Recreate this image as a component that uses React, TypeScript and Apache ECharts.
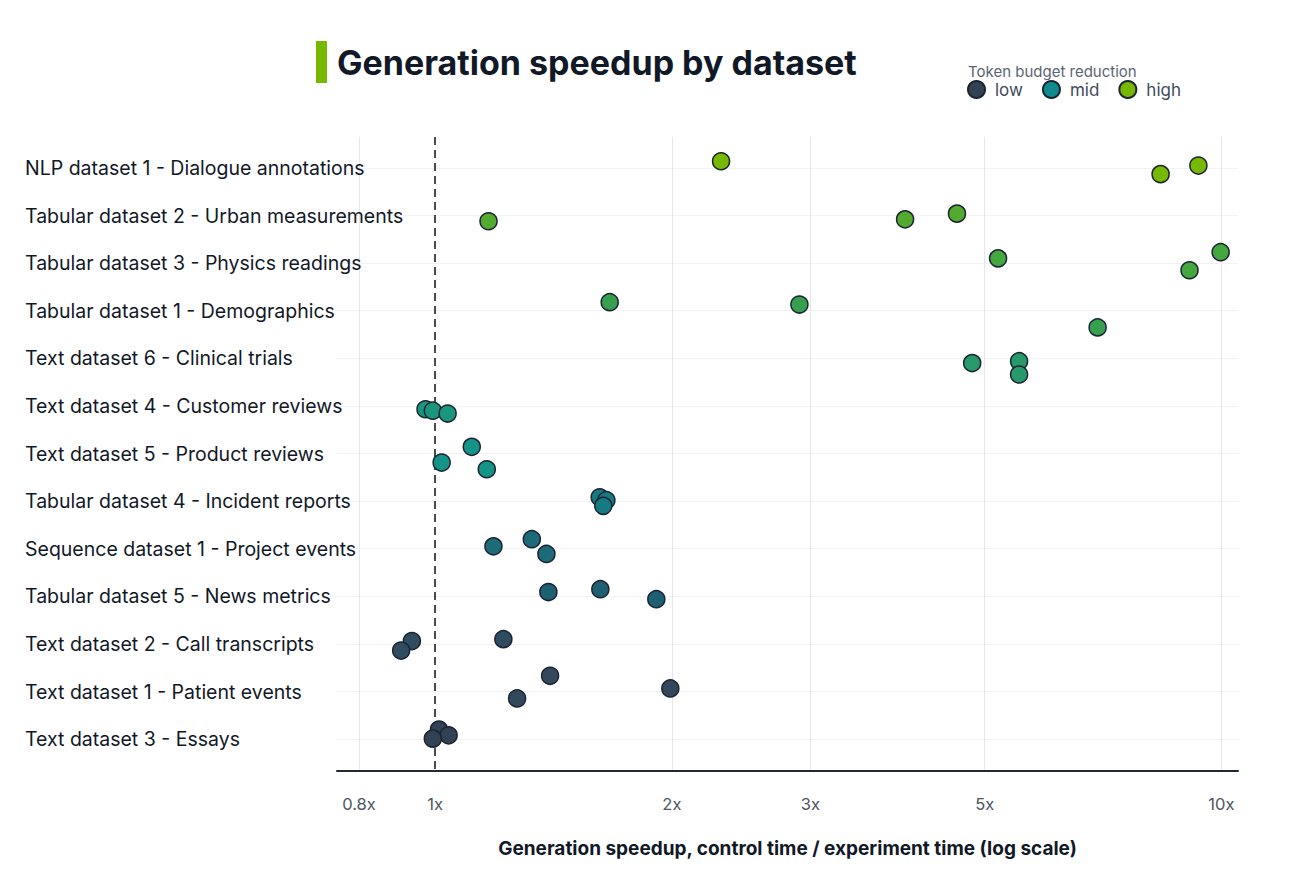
import React, { useEffect, useRef } from "react";
import * as echarts from "echarts";

// Datasets, top to bottom
const categories = [
  "NLP dataset 1 - Dialogue annotations",
  "Tabular dataset 2 - Urban measurements",
  "Tabular dataset 3 - Physics readings",
  "Tabular dataset 1 - Demographics",
  "Text dataset 6 - Clinical trials",
  "Text dataset 4 - Customer reviews",
  "Text dataset 5 - Product reviews",
  "Tabular dataset 4 - Incident reports",
  "Sequence dataset 1 - Project events",
  "Tabular dataset 5 - News metrics",
  "Text dataset 2 - Call transcripts",
  "Text dataset 1 - Patient events",
  "Text dataset 3 - Essays",
];

// Speedup per run (control time / experiment time)
const speedups = [
  [2.31, 8.37, 9.35],
  [1.169, 3.96, 4.61],
  [5.2, 9.11, 9.98],
  [1.667, 2.906, 6.96],
  [4.82, 5.53, 5.53],
  [0.972, 0.993, 1.037],
  [1.113, 1.019, 1.163],
  [1.619, 1.651, 1.636],
  [1.186, 1.327, 1.385],
  [1.393, 1.622, 1.911],
  [0.934, 0.905, 1.221],
  [1.4, 1.271, 1.991],
  [1.011, 1.04, 0.993],
];

// Vertical jitter of each run within its row
const jitter = [
  [-0.14, 0.13, -0.05],
  [0.12, 0.08, -0.04],
  [-0.1, 0.15, -0.23],
  [-0.18, -0.13, 0.35],
  [0.1, 0.06, 0.34],
  [0.07, 0.1, 0.16],
  [-0.14, 0.19, 0.33],
  [-0.08, -0.02, 0.1],
  [-0.05, -0.2, 0.11],
  [-0.09, -0.15, 0.06],
  [-0.06, 0.14, -0.1],
  [-0.33, 0.145, -0.065],
  [-0.2, -0.08, -0.01],
];

const rowColors = [
  "#76b900",
  "#52ab2e",
  "#45a83e",
  "#36a04e",
  "#27996a",
  "#1a967c",
  "#139486",
  "#167a82",
  "#1d6b78",
  "#1f5f72",
  "#2f4c61",
  "#33485d",
  "#334155",
];

const groups = ["low", "mid", "high"];
const groupColors = ["#334155", "#0f8b8d", "#76b900"];
const rowGroup = [2, 2, 2, 2, 2, 1, 1, 1, 1, 1, 0, 0, 0];

const xTicks = [0.8, 1, 2, 3, 5, 10];
const xGrid = [0.8, 2, 3, 5, 10];
const rowIndex = categories.map((_, i) => i);

const FONT = "Inter, 'Noto Sans', sans-serif";

export default function App() {
  const ref = useRef<HTMLDivElement>(null);

  useEffect(() => {
    document.body.style.margin = "0";
    if (!ref.current) return;
    const chart = echarts.init(ref.current, undefined, { renderer: "svg" });

    const series: any[] = groups.map((name, g) => {
      const data: any[] = [];
      speedups.forEach((row, r) => {
        if (rowGroup[r] !== g) return;
        row.forEach((v, k) => {
          data.push({
            value: [v, r + jitter[r][k]],
            itemStyle: { color: rowColors[r] },
          });
        });
      });
      return {
        name,
        type: "scatter",
        symbol: "circle",
        symbolSize: 17,
        itemStyle: { color: groupColors[g], borderColor: "#1b2433", borderWidth: 1.5, opacity: 1 },
        data,
        z: 3,
      };
    });

    // Reference line at no speedup
    series[0].markLine = {
      silent: true,
      symbol: "none",
      label: { show: false },
      lineStyle: { color: "#111111", type: [8, 5], width: 1.5 },
      data: [{ xAxis: 1 }],
      z: 2,
    };

    chart.setOption({
      animation: false,
      backgroundColor: "#ffffff",
      textStyle: { fontFamily: FONT },
      grid: { left: 337, right: 74, top: 137, bottom: 115, containLabel: false },
      legend: {
        data: groups,
        left: 967,
        top: 80,
        padding: 0,
        icon: "circle",
        itemWidth: 17,
        itemHeight: 17,
        itemGap: 19,
        textStyle: { color: "#3f4a5a", fontSize: 17, fontFamily: FONT, padding: [0, 0, 0, 5] },
      },
      graphic: [
        { type: "rect", left: 316, top: 41, shape: { width: 11, height: 42 }, style: { fill: "#76b900" } },
        {
          type: "text",
          x: 337,
          y: 62,
          style: {
            text: "Generation speedup by dataset",
            fill: "#111827",
            font: `bold 34px ${FONT}`,
            verticalAlign: "middle",
          },
        },
        {
          type: "text",
          x: 968,
          y: 71,
          style: { text: "Token budget reduction", fill: "#5b6474", font: `15px ${FONT}`, verticalAlign: "middle" },
        },
      ],
      xAxis: {
        type: "log",
        logBase: 10,
        min: 0.75,
        max: 10.5,
        name: "Generation speedup, control time / experiment time (log scale)",
        nameLocation: "middle",
        nameGap: 68,
        nameTextStyle: { color: "#111827", fontSize: 19, fontWeight: "bold", fontFamily: FONT },
        axisLine: { show: true, onZero: false, lineStyle: { color: "#1f2937", width: 2 } },
        axisTick: { show: false, customValues: xGrid },
        axisLabel: {
          customValues: xTicks,
          margin: 24,
          color: "#4b5563",
          fontSize: 16.5,
          fontFamily: FONT,
          formatter: (v: number) => `${v}x`,
        },
        splitLine: { show: true, lineStyle: { color: "#e3e7ef", width: 1 } },
      },
      yAxis: {
        type: "value",
        inverse: true,
        min: -0.65,
        max: 12.67,
        axisLine: { show: false },
        axisTick: { show: false, customValues: rowIndex },
        axisLabel: {
          customValues: rowIndex,
          align: "left",
          margin: 312,
          color: "#111827",
          fontSize: 19.5,
          fontFamily: FONT,
          formatter: (v: number) => categories[Math.round(v)] ?? "",
        },
        splitLine: { show: true, lineStyle: { color: "#f0f2f6", width: 1 } },
      },
      series,
    });

    return () => chart.dispose();
  }, []);

  return <div ref={ref} style={{ width: 1312, height: 886 }} />;
}
